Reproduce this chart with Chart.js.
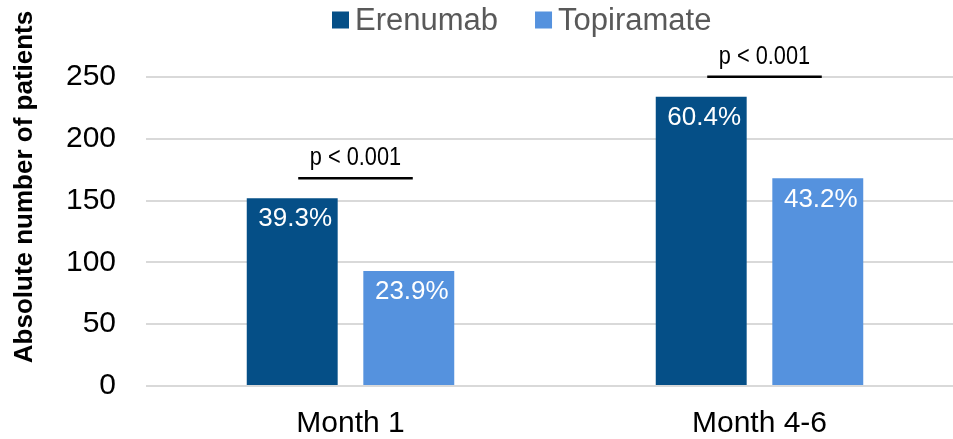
<!DOCTYPE html>
<html>
<head>
<meta charset="utf-8">
<script src="https://cdn.jsdelivr.net/npm/chart.js@4/dist/chart.umd.min.js"></script>
<style>
  html, body { margin: 0; padding: 0; overflow: hidden; background: #ffffff; }
  #wrap { width: 964px; height: 439px; }
</style>
</head>
<body>
<div id="wrap"><canvas id="c" width="964" height="439"></canvas></div>
<script>
// Patients reaching the response threshold, by period
const categories = ['Month 1', 'Month 4-6'];
const seriesNames = ['Erenumab', 'Topiramate'];
const erenumabPatients = [152, 234];
const topiramatePatients = [93, 168];
const erenumabShare = ['39.3%', '60.4%'];
const topiramateShare = ['23.9%', '43.2%'];
const pValueLabels = ['p < 0.001', 'p < 0.001'];
const yTickValues = [0, 50, 100, 150, 200, 250];
const yAxisTitle = 'Absolute number of patients';

const FONT = '"Liberation Sans", Arial, Helvetica, sans-serif';
const seriesColors = ['#054F87', '#5592DE'];

// Percentage labels inside the top of each bar
const barLabels = {
  id: 'barLabels',
  afterDatasetsDraw(chart) {
    const ctx = chart.ctx;
    ctx.save();
    ctx.font = '26px ' + FONT;
    ctx.fillStyle = '#ffffff';
    ctx.textAlign = 'center';
    ctx.textBaseline = 'middle';
    chart.data.datasets.forEach((ds, di) => {
      chart.getDatasetMeta(di).data.forEach((bar, i) => {
        ctx.fillText(ds.shares[i], bar.x + 3, bar.y + 21);
      });
    });
    ctx.restore();
  }
};

// Significance bracket above each pair of bars
const significance = {
  id: 'significance',
  afterDatasetsDraw(chart) {
    const ctx = chart.ctx;
    const a = chart.getDatasetMeta(0).data;
    const b = chart.getDatasetMeta(1).data;
    ctx.save();
    pValueLabels.forEach((txt, i) => {
      const x1 = a[i].x + 6;
      const x2 = b[i].x + 4;
      const y = Math.min(a[i].y, b[i].y) - 20;
      ctx.lineWidth = 2.5;
      ctx.strokeStyle = '#000000';
      ctx.beginPath();
      ctx.moveTo(x1, y);
      ctx.lineTo(x2, y);
      ctx.stroke();
      ctx.save();
      ctx.translate((x1 + x2) / 2, y - 13);
      ctx.scale(0.87, 1);
      ctx.font = '25px ' + FONT;
      ctx.fillStyle = '#000000';
      ctx.textAlign = 'center';
      ctx.textBaseline = 'alphabetic';
      ctx.fillText(txt, 0, 0);
      ctx.restore();
    });
    ctx.restore();
  }
};

// Single-row legend across the top
const legendRow = {
  id: 'legendRow',
  afterDraw(chart, args, opts) {
    const ctx = chart.ctx;
    ctx.save();
    ctx.font = '31px ' + FONT;
    ctx.textBaseline = 'middle';
    ctx.textAlign = 'left';
    let x = opts.left;
    chart.data.datasets.forEach(ds => {
      ctx.fillStyle = ds.backgroundColor;
      ctx.fillRect(x, opts.midY - 8.5, 17, 17);
      x += 17 + 6;
      ctx.fillStyle = '#595959';
      ctx.fillText(ds.label, x, opts.midY + 1);
      x += ctx.measureText(ds.label).width + 37;
    });
    ctx.restore();
  }
};

// Vertical axis title, set higher than the plot's middle
const axisTitle = {
  id: 'axisTitle',
  afterDraw(chart, args, opts) {
    const ctx = chart.ctx;
    ctx.save();
    ctx.translate(opts.x, opts.y);
    ctx.rotate(-Math.PI / 2);
    ctx.font = 'bold 26px ' + FONT;
    ctx.fillStyle = '#000000';
    ctx.textAlign = 'center';
    ctx.textBaseline = 'middle';
    ctx.fillText(yAxisTitle, 0, 0);
    ctx.restore();
  }
};

new Chart(document.getElementById('c'), {
  type: 'bar',
  data: {
    labels: categories,
    datasets: [
      {
        label: seriesNames[0],
        data: erenumabPatients,
        shares: erenumabShare,
        backgroundColor: seriesColors[0],
        barPercentage: 0.78,
        categoryPercentage: 0.57
      },
      {
        label: seriesNames[1],
        data: topiramatePatients,
        shares: topiramateShare,
        backgroundColor: seriesColors[1],
        barPercentage: 0.78,
        categoryPercentage: 0.57
      }
    ]
  },
  options: {
    responsive: false,
    animation: false,
    devicePixelRatio: 1,
    layout: { padding: { left: 5, top: 77, right: 0, bottom: 0 } },
    plugins: {
      legend: { display: false },
      tooltip: { enabled: false },
      legendRow: { left: 332, midY: 20 },
      axisTitle: { x: 25, y: 187 }
    },
    scales: {
      x: {
        grid: { display: false },
        border: { display: false },
        ticks: { font: { family: FONT, size: 30 }, color: '#000000', padding: 12 },
        afterFit(s) { s.height = 53; }
      },
      y: {
        min: 0,
        max: 250,
        afterBuildTicks(s) { s.ticks = yTickValues.map(v => ({ value: v })); },
        ticks: { font: { family: FONT, size: 30 }, color: '#000000', padding: 30 },
        grid: { color: '#D9D9D9', lineWidth: 2, drawTicks: false },
        border: { display: false },
        afterFit(s) { s.width = 141; }
      }
    }
  },
  plugins: [barLabels, significance, legendRow, axisTitle]
});
</script>
</body>
</html>
